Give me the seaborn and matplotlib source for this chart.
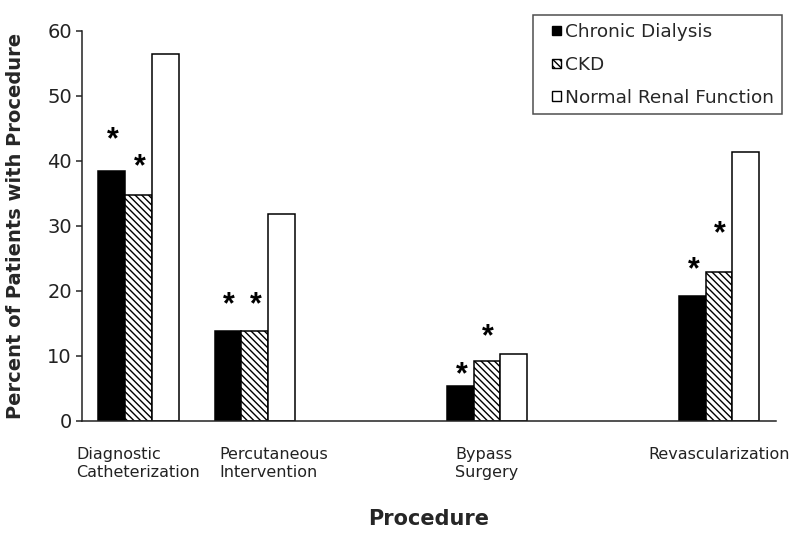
import matplotlib
matplotlib.use("Agg")
import matplotlib.pyplot as plt
import matplotlib.transforms as mtransforms
from matplotlib.patches import Patch, Rectangle
from matplotlib.legend_handler import HandlerPatch
import seaborn as sns
import pandas as pd

# ---- data ----
procedures = ["Diagnostic\nCatheterization", "Percutaneous\nIntervention",
              "Bypass\nSurgery", "Revascularization"]
slot_order = ["Diagnostic\nCatheterization", "Percutaneous\nIntervention", " ",
              "Bypass\nSurgery", "  ", "Revascularization"]
groups = ["Chronic Dialysis", "CKD", "Normal Renal Function"]
chronic_dialysis = [38.5, 13.9, 5.4, 19.3]
ckd = [34.8, 13.9, 9.2, 22.9]
normal_renal = [56.4, 31.8, 10.3, 41.4]
# y positions (data units) of the significance asterisks
star_dialysis = [43.7, 18.4, 7.6, 23.8]
star_ckd = [39.5, 18.4, 13.4, 29.2]

rows = []
for g, vals in zip(groups, [chronic_dialysis, ckd, normal_renal]):
    for p, v in zip(procedures, vals):
        rows.append({"Procedure": p, "Group": g, "Percent": v})
df = pd.DataFrame(rows)

sns.set_style("white")
plt.rcParams["font.family"] = ["DejaVu Sans"]
plt.rcParams["hatch.linewidth"] = 1.0

fig = plt.figure(figsize=(8.0, 5.43), dpi=100)
ax = fig.add_axes([0.102, 0.2247, 0.868, 0.7183])

sns.barplot(data=df, x="Procedure", y="Percent", hue="Group",
            order=slot_order, hue_order=groups,
            palette=["black", "white", "white"], width=0.69,
            edgecolor="black", linewidth=1.1, saturation=1, legend=False, ax=ax)

HATCH = "\\\\\\\\\\"
for bar in ax.containers[1]:
    bar.set_hatch(HATCH)

# asterisks
for cont, stars in [(ax.containers[0], star_dialysis), (ax.containers[1], star_ckd)]:
    bars = sorted(cont.patches, key=lambda b: b.get_x())
    for b, sy in zip(bars, stars):
        ax.text(b.get_x() + b.get_width() / 2 + 0.01, sy, "*", ha="center",
                va="center_baseline", fontsize=22, fontweight="bold",
                family="Liberation Sans", color="black")

ax.set_ylim(0, 60)
ax.set_xlim(-0.49, 5.49)
ax.set_yticks(range(0, 61, 10))
ax.tick_params(axis="y", direction="out", length=4, width=1.1, pad=3,
               labelsize=14, labelcolor="#222222", left=True)
ax.tick_params(axis="x", length=0, pad=19, labelsize=11.5, labelcolor="#222222")
for lab in ax.get_xticklabels():
    lab.set_multialignment("left")
    if lab.get_text().startswith("Percutaneous"):
        lab.set_transform(lab.get_transform() +
                          mtransforms.ScaledTranslation(0.19, 0, fig.dpi_scale_trans))

sns.despine(ax=ax)
for s in ["left", "bottom"]:
    ax.spines[s].set_linewidth(1.1)
    ax.spines[s].set_color("#222222")

ax.set_ylabel("Percent of Patients with Procedure", fontsize=14, fontweight="bold")
ax.yaxis.set_label_coords(-0.082, 0.5)
ax.set_xlabel("Procedure", fontsize=15, fontweight="bold")
ax.xaxis.set_label_coords(0.5, -0.225)


def small_square(legend, orig_handle, xdescent, ydescent, width, height, fontsize):
    s = 6.8
    return Rectangle((-xdescent + width - s, -ydescent + (height - s) / 2), s, s)


handles = [Patch(facecolor="black", edgecolor="black"),
           Patch(facecolor="white", edgecolor="black", hatch=HATCH),
           Patch(facecolor="white", edgecolor="black")]
leg = fig.legend(handles, groups, loc="upper right", bbox_to_anchor=(0.9775, 0.972),
                 borderaxespad=0, fontsize=13.3, frameon=True, fancybox=False,
                 edgecolor="#222222", handlelength=1.1, handleheight=0.7,
                 handletextpad=0.22, labelspacing=0.8, borderpad=0.42,
                 handler_map={Patch: HandlerPatch(patch_func=small_square)})
leg.get_frame().set_linewidth(1.1)

fig.savefig("out.png", dpi=100)
